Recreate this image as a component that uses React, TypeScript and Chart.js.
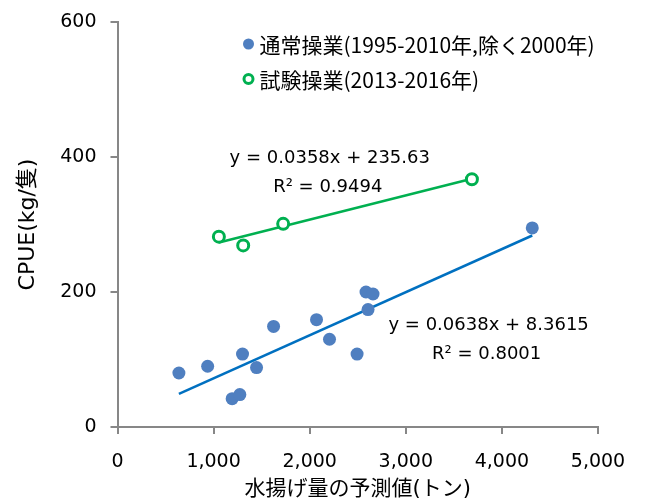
import React, { useEffect, useRef } from 'react';
import { Chart, registerables } from 'chart.js';
Chart.register(...registerables);

const normalLabel = '通常操業(1995-2010年,除く2000年)';
const trialLabel = '試験操業(2013-2016年)';
const normalX = [639, 938, 1193, 1273, 1301, 1447, 1624, 2071, 2206, 2493, 2586, 2659, 2607, 4316];
const normalY = [80, 90, 42, 48, 108, 88, 149, 159, 130, 108, 200, 197, 174, 295];
const trialX = [1055, 1308, 1724, 3688];
const trialY = [282, 269, 301, 367];
const normalFit = { slope: 0.0638, intercept: 8.3615, eq: 'y = 0.0638x + 8.3615', r2: 'R² = 0.8001', at: { x: 3862, y: 151 } };
const trialFit = { slope: 0.0358, intercept: 235.63, eq: 'y = 0.0358x + 235.63', r2: 'R² = 0.9494', at: { x: 2209, y: 398 } };
const xTicks = [0, 1000, 2000, 3000, 4000, 5000];
const yTicks = [0, 200, 400, 600];
const xTitle = '水揚げ量の予測値(トン)';
const yTitle = 'CPUE(kg/隻)';

const BLUE = '#4F7FC0';
const BLUE_LINE = '#0070C0';
const GREEN = '#00B050';
const AXIS = '#878787';
const TEXT = '#000000';
const LATIN = '"DejaVu Sans", "Noto Sans CJK JP", sans-serif';

function trend(xs: number[], fit: { slope: number; intercept: number }) {
  const lo = Math.min(...xs);
  const hi = Math.max(...xs);
  return [
    { x: lo, y: fit.slope * lo + fit.intercept },
    { x: hi, y: fit.slope * hi + fit.intercept },
  ];
}

const overlay = {
  id: 'overlay',
  afterDraw(chart: any) {
    const { ctx, chartArea, scales } = chart;
    ctx.save();
    ctx.fillStyle = TEXT;
    ctx.font = '18px ' + LATIN;
    ctx.textAlign = 'center';
    ctx.textBaseline = 'middle';
    for (const f of [normalFit, trialFit]) {
      const px = scales.x.getPixelForValue(f.at.x);
      const py = scales.y.getPixelForValue(f.at.y);
      ctx.fillText(f.eq, px, py);
      ctx.fillText(f.r2, px - 2, py + 29);
    }
    const lx = chartArea.left + 131;
    const top = chartArea.top;
    const rows = [
      { text: normalLabel, filled: true, y: top + 22 },
      { text: trialLabel, filled: false, y: top + 57 },
    ];
    ctx.textAlign = 'left';
    ctx.font = '21px "Noto Sans CJK JP", sans-serif';
    for (const r of rows) {
      ctx.beginPath();
      if (r.filled) {
        ctx.fillStyle = BLUE;
        ctx.arc(lx, r.y, 5.5, 0, Math.PI * 2);
        ctx.fill();
      } else {
        ctx.strokeStyle = GREEN;
        ctx.lineWidth = 3;
        ctx.arc(lx, r.y, 4.5, 0, Math.PI * 2);
        ctx.stroke();
      }
      ctx.fillStyle = TEXT;
      ctx.fillText(r.text, lx + 11, r.y + 1);
    }
    ctx.restore();
  },
};

export default function App() {
  const ref = useRef<HTMLCanvasElement>(null);
  useEffect(() => {
    if (!ref.current) return;
    const chart = new Chart(ref.current, {
      type: 'scatter',
      data: {
        datasets: [
          { label: normalLabel, data: normalX.map((x, i) => ({ x, y: normalY[i] })), backgroundColor: BLUE, borderColor: BLUE, pointRadius: 6.5, borderWidth: 0 },
          { label: trialLabel, data: trialX.map((x, i) => ({ x, y: trialY[i] })), backgroundColor: '#ffffff', borderColor: GREEN, pointRadius: 5.5, borderWidth: 3 },
          { label: 'normal trend', data: trend(normalX, normalFit), showLine: true, borderColor: BLUE_LINE, borderWidth: 2.5, pointRadius: 0 },
          { label: 'trial trend', data: trend(trialX, trialFit), showLine: true, borderColor: GREEN, borderWidth: 2.5, pointRadius: 0 },
        ],
      },
      options: {
        responsive: false,
        animation: false,
        layout: { padding: { left: 0, right: 48, top: 22, bottom: 0 } },
        plugins: { legend: { display: false }, tooltip: { enabled: false } },
        scales: {
          x: {
            type: 'linear', min: 0, max: 5000,
            afterBuildTicks: (s: any) => { s.ticks = xTicks.map((v) => ({ value: v })); },
            afterFit: (s: any) => { s.height = 75; s.paddingLeft = 0; s.paddingRight = 0; },
            grid: { drawOnChartArea: false, drawTicks: true, tickLength: 7, color: AXIS, lineWidth: 2 },
            border: { display: true, color: AXIS, width: 2 },
            ticks: { color: TEXT, padding: 17, font: { family: LATIN, size: 19 }, callback: (v: any) => Number(v).toLocaleString('en-US') },
            title: { display: true, text: xTitle, color: TEXT, font: { family: LATIN, size: 21 }, padding: { top: 0, bottom: 0 } },
          },
          y: {
            type: 'linear', min: 0, max: 600,
            afterBuildTicks: (s: any) => { s.ticks = yTicks.map((v) => ({ value: v })); },
            afterFit: (s: any) => { s.width = 117.5; s.paddingTop = 0; s.paddingBottom = 0; },
            grid: { drawOnChartArea: false, drawTicks: true, tickLength: 7, color: AXIS, lineWidth: 2 },
            border: { display: true, color: AXIS, width: 2 },
            ticks: { color: TEXT, padding: 14, font: { family: LATIN, size: 19 } },
            title: { display: true, text: yTitle, color: TEXT, font: { family: LATIN, size: 22 }, padding: { top: 15, bottom: 0 } },
          },
        },
      },
      plugins: [overlay],
    } as any);
    return () => chart.destroy();
  }, []);
  return (
    <div style={{ position: 'absolute', left: 0, top: 0, width: 646, height: 502, background: '#fff' }}>
      <canvas ref={ref} width={646} height={502} />
    </div>
  );
}
